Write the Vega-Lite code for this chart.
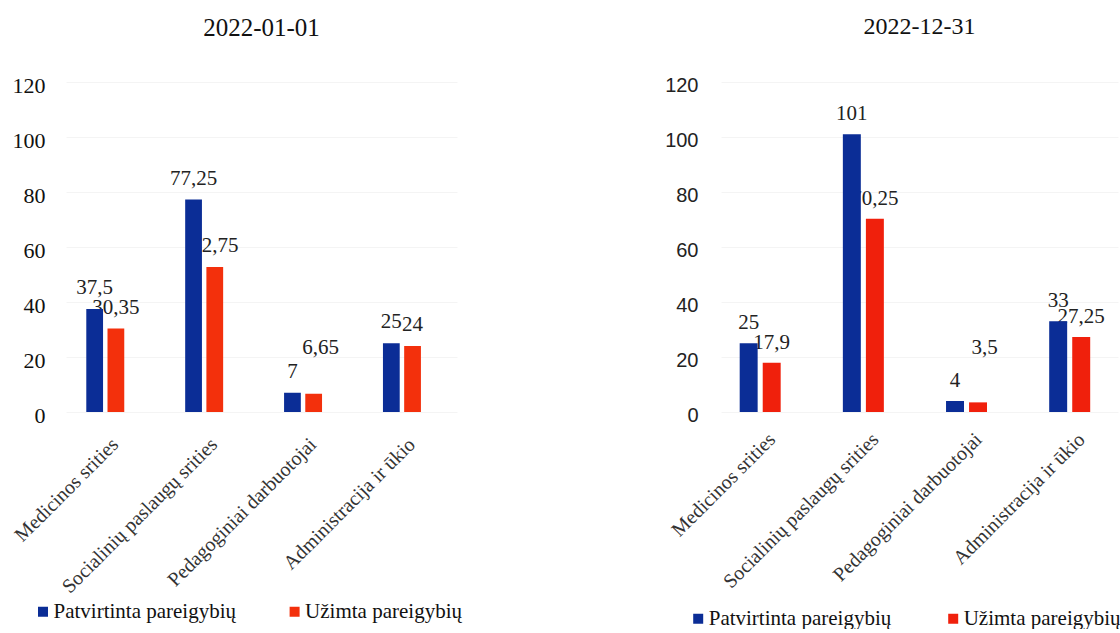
{
  "$schema": "https://vega.github.io/schema/vega-lite/v6.json",
  "background": "white",
  "padding": {"left": 10, "top": 15, "right": 0, "bottom": 0},
  "bounds": "flush",
  "spacing": 264,
  "config": {"view": {"stroke": null}, "font": "Liberation Serif"},
  "resolve": {"scale": {"color": "independent", "x": "independent", "y": "independent", "xOffset": "independent"}, "legend": {"color": "independent"}},
  "datasets": {
    "start": [
      {"category": "Medicinos srities", "series": "Patvirtinta pareigybių", "value": 37.5, "label": "37,5"},
      {"category": "Medicinos srities", "series": "Užimta pareigybių", "value": 30.35, "label": "30,35"},
      {"category": "Socialinių paslaugų srities", "series": "Patvirtinta pareigybių", "value": 77.25, "label": "77,25"},
      {"category": "Socialinių paslaugų srities", "series": "Užimta pareigybių", "value": 52.75, "label": "52,75"},
      {"category": "Pedagoginiai darbuotojai", "series": "Patvirtinta pareigybių", "value": 7, "label": "7"},
      {"category": "Pedagoginiai darbuotojai", "series": "Užimta pareigybių", "value": 6.65, "label": "6,65"},
      {"category": "Administracija ir ūkio", "series": "Patvirtinta pareigybių", "value": 25, "label": "25"},
      {"category": "Administracija ir ūkio", "series": "Užimta pareigybių", "value": 24, "label": "24"}
    ],
    "end": [
      {"category": "Medicinos srities", "series": "Patvirtinta pareigybių", "value": 25, "label": "25"},
      {"category": "Medicinos srities", "series": "Užimta pareigybių", "value": 17.9, "label": "17,9"},
      {"category": "Socialinių paslaugų srities", "series": "Patvirtinta pareigybių", "value": 101, "label": "101"},
      {"category": "Socialinių paslaugų srities", "series": "Užimta pareigybių", "value": 70.25, "label": "70,25"},
      {"category": "Pedagoginiai darbuotojai", "series": "Patvirtinta pareigybių", "value": 4, "label": "4"},
      {"category": "Pedagoginiai darbuotojai", "series": "Užimta pareigybių", "value": 3.5, "label": "3,5"},
      {"category": "Administracija ir ūkio", "series": "Patvirtinta pareigybių", "value": 33, "label": "33"},
      {"category": "Administracija ir ūkio", "series": "Užimta pareigybių", "value": 27.25, "label": "27,25"}
    ]
  },
  "hconcat": [
    {
      "width": 391,
      "height": 330,
      "data": {"name": "start"},
      "title": {"text": "2022-01-01", "font": "Liberation Serif", "fontSize": 25, "fontWeight": "normal", "color": "#111111", "offset": 33},
      "encoding": {
        "x": {
          "field": "category", "type": "nominal", "sort": null,
          "scale": {"paddingInner": 0.616, "paddingOuter": 0.285, "align": 0.36},
          "axis": {"title": null, "ticks": false, "domain": false, "labelAngle": -45, "labelFont": "Liberation Serif", "labelFontSize": 20, "labelColor": "#333333", "labelPadding": 22, "labelOffset": 3, "labelLimit": 300, "labelOverlap": false}
        },
        "xOffset": {"field": "series", "type": "nominal", "sort": null, "scale": {"paddingInner": 0.21, "paddingOuter": 0}},
        "y": {
          "field": "value", "type": "quantitative",
          "scale": {"domain": [0, 120], "nice": false},
          "axis": {"title": null, "ticks": false, "domain": false, "values": [0, 20, 40, 60, 80, 100, 120], "labelFont": "Liberation Serif", "labelFontSize": 22, "labelColor": "#111111", "labelPadding": 21, "labelOffset": 3, "gridColor": "#f4f4f4"}
        }
      },
      "layer": [
        {
          "transform": [{"filter": "datum.category != 'Pedagoginiai darbuotojai' || datum.series == 'Patvirtinta pareigybių'"}],
          "mark": {"type": "text", "baseline": "alphabetic", "dy": -15, "font": "Liberation Serif", "fontSize": 21, "color": "#222222"},
          "encoding": {"text": {"field": "label", "type": "nominal"}}
        },
        {
          "transform": [{"filter": "datum.category == 'Pedagoginiai darbuotojai' && datum.series == 'Užimta pareigybių'"}],
          "mark": {"type": "text", "baseline": "alphabetic", "dy": -40, "dx": 7, "font": "Liberation Serif", "fontSize": 21, "color": "#222222"},
          "encoding": {"text": {"field": "label", "type": "nominal"}}
        },
        {
          "mark": {"type": "bar"},
          "encoding": {
            "color": {
              "field": "series", "type": "nominal",
              "scale": {"domain": ["Patvirtinta pareigybių", "Užimta pareigybių"], "range": ["#0b2d96", "#f3300c"]},
              "legend": {"title": null, "orient": "none", "legendX": -33.5, "legendY": 519, "direction": "horizontal", "symbolType": "square", "symbolSize": 100, "symbolStrokeWidth": 0, "labelFont": "Liberation Serif", "labelFontSize": 21, "labelColor": "#111111", "labelLimit": 300, "columnPadding": 47.6, "labelOffset": 0}
            }
          }
        }
      ]
    },
    {
      "width": 397,
      "height": 330,
      "data": {"name": "end"},
      "title": {"text": "2022-12-31", "font": "Liberation Serif", "fontSize": 24, "fontWeight": "normal", "color": "#111111", "offset": 36},
      "encoding": {
        "x": {
          "field": "category", "type": "nominal", "sort": null,
          "scale": {"paddingInner": 0.6026, "paddingOuter": 0.2253, "align": 0.402},
          "axis": {"title": null, "ticks": false, "domain": false, "labelAngle": -45, "labelFont": "Liberation Serif", "labelFontSize": 20, "labelColor": "#333333", "labelPadding": 17, "labelOffset": 5, "labelLimit": 300, "labelOverlap": false}
        },
        "xOffset": {"field": "series", "type": "nominal", "sort": null, "scale": {"paddingInner": 0.22, "paddingOuter": 0}},
        "y": {
          "field": "value", "type": "quantitative",
          "scale": {"domain": [0, 120], "nice": false},
          "axis": {"title": null, "ticks": false, "domain": false, "values": [0, 20, 40, 60, 80, 100, 120], "labelFont": "Liberation Sans", "labelFontSize": 20, "labelColor": "#222222", "labelPadding": 23, "labelOffset": 3, "gridColor": "#f4f4f4"}
        }
      },
      "layer": [
        {
          "transform": [{"filter": "datum.category != 'Pedagoginiai darbuotojai' || datum.series == 'Patvirtinta pareigybių'"}],
          "mark": {"type": "text", "baseline": "alphabetic", "dy": -14, "font": "Liberation Serif", "fontSize": 21, "color": "#222222"},
          "encoding": {"text": {"field": "label", "type": "nominal"}}
        },
        {
          "transform": [{"filter": "datum.category == 'Pedagoginiai darbuotojai' && datum.series == 'Užimta pareigybių'"}],
          "mark": {"type": "text", "baseline": "alphabetic", "dy": -48, "dx": 6.5, "font": "Liberation Serif", "fontSize": 21, "color": "#222222"},
          "encoding": {"text": {"field": "label", "type": "nominal"}}
        },
        {
          "mark": {"type": "bar"},
          "encoding": {
            "color": {
              "field": "series", "type": "nominal",
              "scale": {"domain": ["Patvirtinta pareigybių", "Užimta pareigybių"], "range": ["#0b2d96", "#f0200c"]},
              "legend": {"title": null, "orient": "none", "legendX": -33.3, "legendY": 526, "direction": "horizontal", "symbolType": "square", "symbolSize": 100, "symbolStrokeWidth": 0, "labelFont": "Liberation Serif", "labelFontSize": 21, "labelColor": "#111111", "labelLimit": 300, "columnPadding": 51, "labelOffset": 0}
            }
          }
        }
      ]
    }
  ]
}
